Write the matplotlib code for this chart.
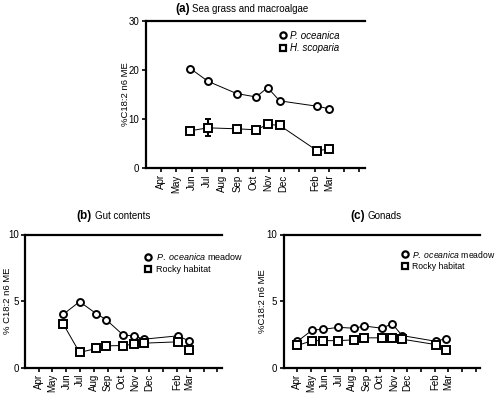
import matplotlib
matplotlib.use("Agg")
import matplotlib.pyplot as plt
from matplotlib.lines import Line2D

plt.rcParams['font.family'] = ['Liberation Sans', 'DejaVu Sans']
plt.rcParams['mathtext.fontset'] = 'custom'
plt.rcParams['mathtext.it'] = 'Liberation Sans:italic'
plt.rcParams['mathtext.rm'] = 'Liberation Sans'

# eje x en dias desde el 1 de marzo
tick_dias = [31, 61, 92, 122, 153, 184, 214, 245, 275, 306, 337, 365, 396, 426]
tick_meses = ['Apr', 'May', 'Jun', 'Jul', 'Aug', 'Sep', 'Oct', 'Nov', 'Dec', '', 'Feb', 'Mar', '', '']

# (a) Sea grass and macroalgae
a_dias = [89, 124, 181, 220, 243, 267, 342, 365]
a_poc = [20.3, 17.7, 15.2, 14.5, 16.4, 13.7, 12.6, 12.1]
a_hsc = [7.6, 8.2, 8.0, 7.8, 8.9, 8.7, 3.5, 3.9]
a_hsc_err = [0, 1.7, 0, 0, 0, 0, 0, 0]

# (b) Gut contents
b_dias = [85, 121, 158, 180, 218, 241, 264, 339, 364]
b_poc = [4.0, 4.95, 4.05, 3.6, 2.43, 2.38, 2.13, 2.38, 2.0]
b_roca = [3.26, 1.13, 1.43, 1.63, 1.65, 1.76, 1.83, 1.93, 1.3]

# (c) Gonads
c_dias = [31, 64, 88, 122, 157, 179, 219, 241, 263, 338, 361]
c_poc = [1.97, 2.82, 2.87, 3.02, 2.95, 3.12, 2.95, 3.3, 2.4, 1.97, 2.18]
c_roca = [1.66, 2.02, 2.02, 2.02, 2.08, 2.23, 2.23, 2.23, 2.13, 1.72, 1.28]

W, H = 499, 393
fig = plt.figure(figsize=(W / 100, H / 100), dpi=100)


def caja(x0, y0, x1, y1):
    # pixeles -> fracciones de figura
    return [x0 / W, 1 - y1 / H, (x1 - x0) / W, (y1 - y0) / H]


def estilo(ax, ylim, yticks, ylabel, xlab):
    ax.set_xlim(0, 437)
    ax.set_ylim(*ylim)
    ax.set_xticks(tick_dias)
    ax.set_xticklabels(tick_meses, rotation=90, fontsize=7)
    ax.set_yticks(yticks)
    ax.set_yticklabels([str(v) for v in yticks], fontsize=7)
    ax.tick_params(direction='out', length=3, width=1.2, pad=1.5)
    for s in ['left', 'bottom', 'top']:
        ax.spines[s].set_linewidth(1.6)
    ax.spines['right'].set_visible(False)
    ax.set_ylabel(ylabel, fontsize=6.8)
    ax.yaxis.set_label_coords(xlab, 0.5)


def serie(ax, x, y, m, yerr=None):
    ax.errorbar(x, y, yerr=yerr, color='k', lw=0.7, marker=m, ms=5 if m == 'o' else 5.2,
                mfc='white', mec='k', mew=1.4, capsize=2.5, elinewidth=1.5, capthick=1.5,
                zorder=3)


def titulo(xsplit, y, letra, texto):
    fig.text((xsplit - 1.5) / W, 1 - y / H, letra, ha='right', va='center',
             fontsize=8.5, fontweight='bold')
    fig.text((xsplit + 1.5) / W, 1 - y / H, texto, ha='left', va='center', fontsize=7)


def leyenda(ax, etiquetas, **kw):
    h = [Line2D([], [], color='k', ls='none', marker='o', ms=4.5, mfc='white', mew=1.6),
         Line2D([], [], color='k', ls='none', marker='s', ms=4.5, mfc='white', mew=1.6)]
    ax.legend(h, etiquetas, frameon=False, handlelength=0.6, handletextpad=0.5,
              labelspacing=0.25, borderaxespad=0.3, **kw)


etiq_bc = [r'$\mathit{P.}$ $\mathit{oceanica}$ meadow', 'Rocky habitat']

# (a)
ax1 = fig.add_axes(caja(145.7, 21, 365, 168))
serie(ax1, a_dias, a_poc, 'o')
serie(ax1, a_dias, a_hsc, 's', yerr=a_hsc_err)
estilo(ax1, (0, 30), [0, 10, 20, 30], '%C18:2 n6 ME', -0.072)
leyenda(ax1, ['P. oceanica', 'H. scoparia'], loc='upper left',
        bbox_to_anchor=(0.58, 0.98), prop={'style': 'italic', 'size': 7})
titulo(191, 9, '(a)', 'Sea grass and macroalgae')

# (b)
ax2 = fig.add_axes(caja(25, 234.5, 222, 367.5))
serie(ax2, b_dias, b_poc, 'o')
serie(ax2, b_dias, b_roca, 's')
estilo(ax2, (0, 10), [0, 5, 10], '% C18:2 n6 ME', -0.066)
leyenda(ax2, etiq_bc, loc='upper left',
        bbox_to_anchor=(0.58, 0.92), prop={'size': 6.5})
titulo(93.5, 216, '(b)', 'Gut contents')

# (c)
ax3 = fig.add_axes(caja(283.5, 234.5, 480.5, 367.5))
serie(ax3, c_dias, c_poc, 'o')
serie(ax3, c_dias, c_roca, 's')
estilo(ax3, (0, 10), [0, 5, 10], '%C18:2 n6 ME', -0.084)
leyenda(ax3, etiq_bc, loc='upper left',
        bbox_to_anchor=(0.575, 0.94), prop={'size': 6.2})
titulo(366.5, 216, '(c)', 'Gonads')

fig.savefig('out.png', dpi=100)
